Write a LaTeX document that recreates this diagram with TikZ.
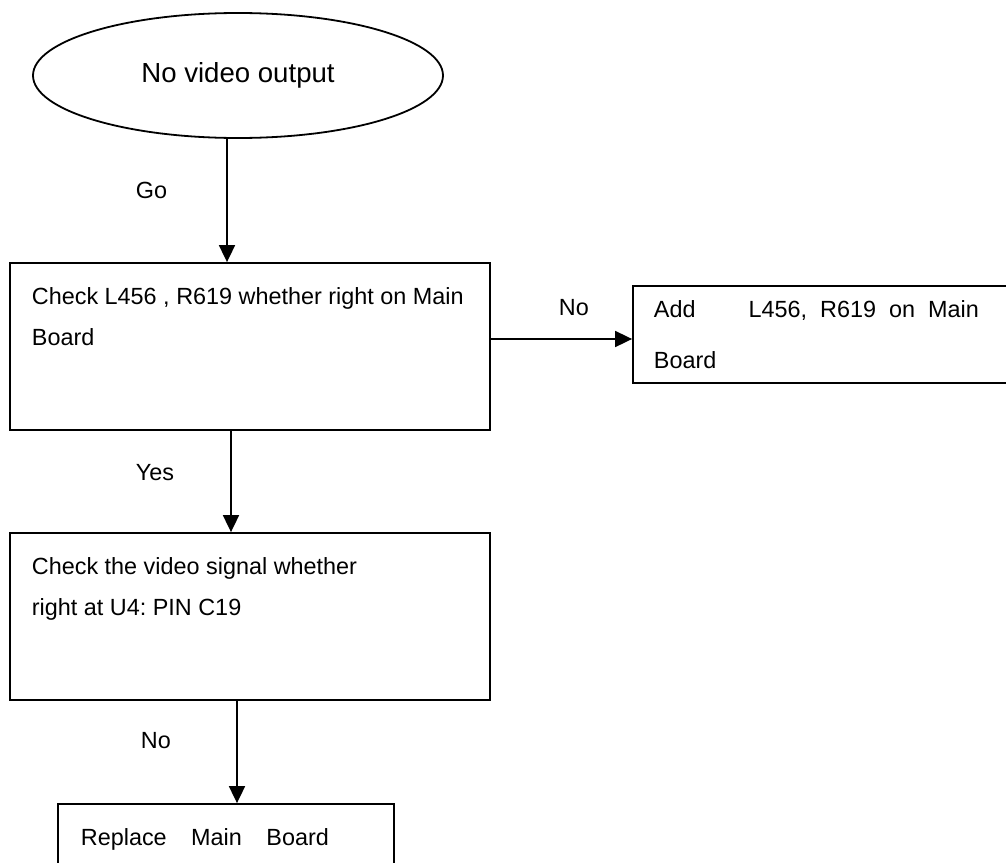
\documentclass[tikz,border=0pt]{standalone}
\usepackage{fontspec}
\setmainfont{Liberation Sans}
\usepackage{tikz}
\usetikzlibrary{calc, shapes.geometric, positioning, arrows.meta}
\frenchspacing

\begin{document}
\begin{tikzpicture}[x=0.5pt, y=-0.5pt, line width=0.9pt,
    >={Triangle[length=8.5pt, width=8pt]},
    term/.style={draw, ellipse, minimum width=205pt, minimum height=62.5pt,
        inner sep=0pt, font=\fontsize{13.8}{16}\selectfont},
    stepbox/.style={draw, rectangle, inner sep=0pt},
    boxtxt/.style={inner sep=0pt, align=left, anchor=north west,
        font=\fontsize{11.7}{20.5}\selectfont},
    lbl/.style={inner sep=0pt, anchor=base west, font=\fontsize{11.7}{14}\selectfont}]
    % 1. Page frame
    \clip (0,0) rectangle (1006,862);

    % 2. Start and boxes
    \node[term] (start) at (238,75.5) {No video output};
    \node[stepbox, minimum width=240pt, minimum height=83.5pt] (chkLR) at (250,346.5) {};
    \node[stepbox, minimum width=198.5pt, minimum height=48.5pt] (addLR) at (831.5,334.5) {};
    \node[stepbox, minimum width=240pt, minimum height=83.5pt] (chkVid) at (250,616.5) {};
    \node[stepbox, minimum width=168pt, minimum height=38pt] (repMB) at (226,842) {};

    % 3. Texts in the boxes
    \node[boxtxt] (tLR) at (31,287) {Check L456 , R619 whether right on Main\\Board};
    \node[boxtxt, text width=162.5pt, align=justify,
        font=\fontsize{11.7}{25.5}\selectfont] (tAdd) at (653,300)
        {Add\hspace{20pt} L456, R619 on Main\linebreak Board};
    \node[boxtxt] (tVid) at (31,557) {Check the video signal whether\\right at U4: PIN C19};
    \node[lbl] (tRep) at (80,845) {Replace\hspace{9pt} Main\hspace{9pt} Board};

    % 4. Arrows and their labels
    \coordinate (goTop) at ($(start.south)+(-11,0)$);
    \coordinate (noL) at ($(chkLR.east)+(0,-7.5)$);
    \coordinate (yesTop) at ($(chkLR.south)+(-19,0)$);
    \coordinate (noB) at ($(chkVid.south)+(-13,0)$);
    \draw[->] (goTop) -- (goTop |- chkLR.north);
    \draw[->] (noL) -- (noL -| addLR.west);
    \draw[->] (yesTop) -- (yesTop |- chkVid.north);
    \draw[->] (noB) -- (noB |- repMB.north);
    \node[lbl] (lGo) at (135,198) {Go};
    \node[lbl] (lNoR) at (558,315) {No};
    \node[lbl] (lYes) at (135,480) {Yes};
    \node[lbl] (lNoB) at (140,748) {No};
\end{tikzpicture}
\end{document}
